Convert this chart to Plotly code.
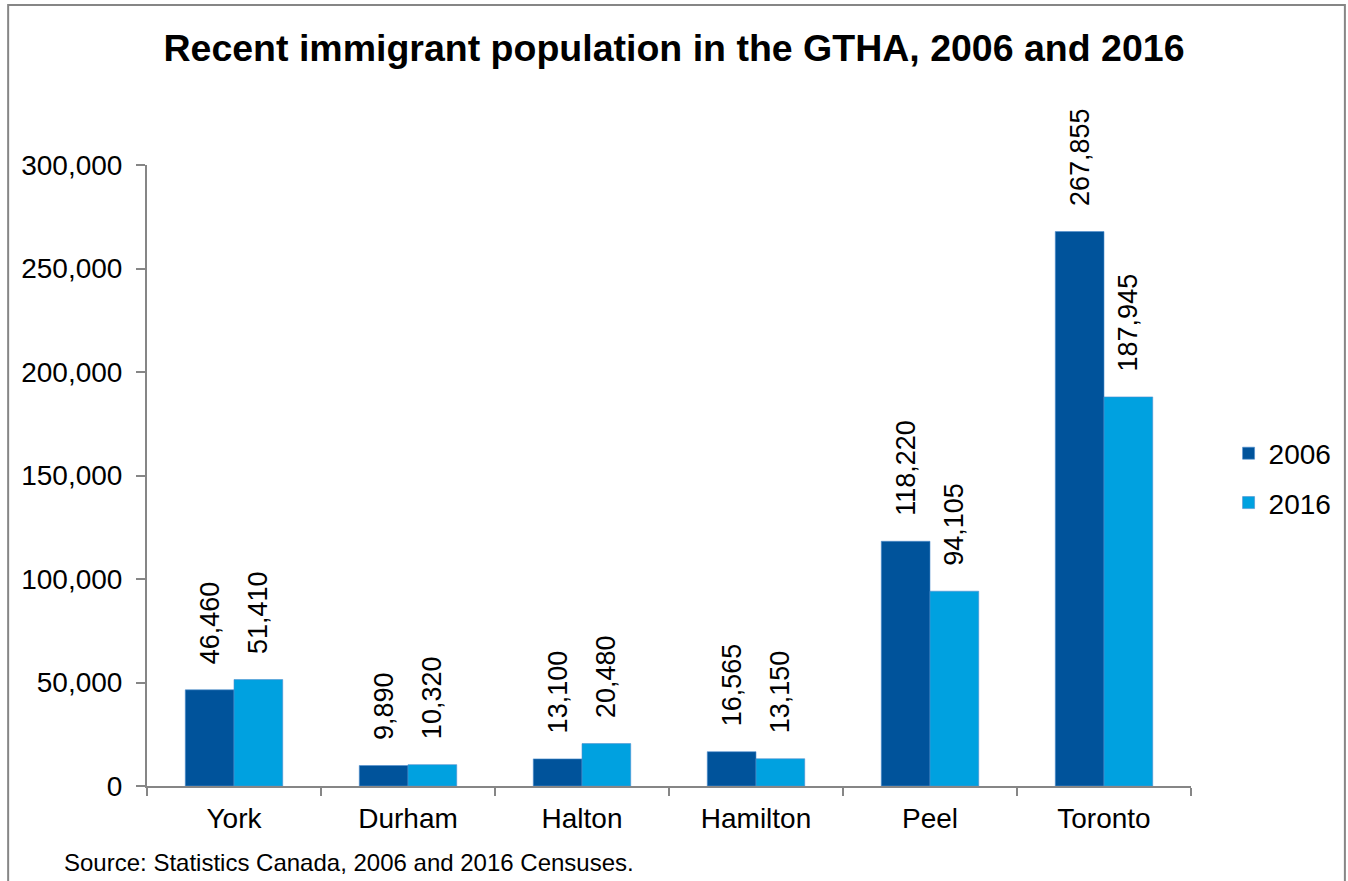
import plotly.graph_objects as go

# Recent immigrant population by region, census years 2006 and 2016
regions = ["York", "Durham", "Halton", "Hamilton", "Peel", "Toronto"]
pop_2006 = [46460, 9890, 13100, 16565, 118220, 267855]
pop_2016 = [51410, 10320, 20480, 13150, 94105, 187945]
y_ticks = [0, 50000, 100000, 150000, 200000, 250000, 300000]

FONT = "Liberation Sans, Arial, sans-serif"
AXIS_GREY = "#868686"
NBSP = "\u00a0"

fig = go.Figure()
for name, vals, color in [("2006", pop_2006, "#00539B"), ("2016", pop_2016, "#00A1E0")]:
    fig.add_trace(go.Bar(
        x=regions, y=vals, name=name, legendgroup=name,
        marker=dict(color=color, line=dict(color="#4F8FCF", width=0.6)),
        # value labels sit a little above each bar (rotated text reads upward)
        texttemplate=NBSP * 3 + "%{y:,}", textposition="outside", textangle=-90,
        constraintext="none",
        textfont=dict(family=FONT, size=27, color="black"),
        cliponaxis=False,
    ))

fig.update_layout(
    width=1348, height=881,
    margin=dict(l=147, r=156, t=165, b=95),
    paper_bgcolor="white", plot_bgcolor="white",
    barmode="group", bargap=0.44, bargroupgap=0,
    font=dict(family=FONT, size=28, color="black"),
    title=dict(text="<b>Recent immigrant population in the GTHA, 2006 and 2016</b>",
               x=0.5, xanchor="center", y=0.946, yanchor="middle",
               font=dict(family=FONT, size=37.5, color="black")),
    legend=dict(x=1.035, y=0.496, xanchor="left", yanchor="middle",
                font=dict(family=FONT, size=28), traceorder="grouped",
                tracegroupgap=10, itemwidth=30),
    showlegend=True,
)

fig.update_xaxes(
    showline=True, linecolor=AXIS_GREY, linewidth=2,
    ticks="outside", tickson="boundaries", ticklen=8, tickcolor=AXIS_GREY, tickwidth=2,
    tickfont=dict(family=FONT, size=28), showgrid=False, ticklabelstandoff=6,
)
fig.update_yaxes(
    range=[0, 300000], tickvals=y_ticks, tickformat=",",
    showline=True, linecolor=AXIS_GREY, linewidth=2,
    ticks="outside", ticklen=9, tickcolor=AXIS_GREY, tickwidth=2,
    tickfont=dict(family=FONT, size=28), showgrid=False, zeroline=False,
    ticklabelstandoff=8,
)

# Outer frame around the chart (open at the bottom edge of the page)
fig.add_shape(type="rect", xref="paper", yref="paper",
              x0=-0.133, x1=1.1474, y0=-0.17, y1=1.2576,
              line=dict(color=AXIS_GREY, width=2), layer="below")

fig.add_annotation(text="Source: Statistics Canada, 2006 and 2016 Censuses.",
                   xref="paper", yref="paper", x=-0.0813, y=-0.1233,
                   xanchor="left", yanchor="middle", showarrow=False,
                   font=dict(family=FONT, size=24, color="black"))

fig.write_html("out.html")
